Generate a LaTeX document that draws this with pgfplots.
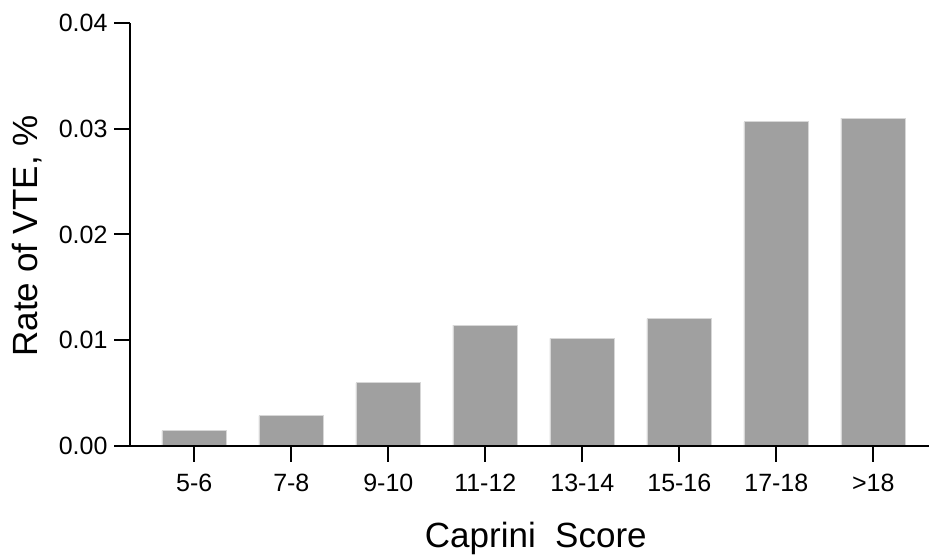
\documentclass[border=0pt]{standalone}
\usepackage{pgfplots}
\pgfplotsset{compat=1.18}
\usepackage{fontspec}
\setmainfont{Liberation Sans}
\definecolor{barfill}{RGB}{160,160,160}
\definecolor{baredge}{RGB}{215,215,215}
\begin{document}
\begin{tikzpicture}[x=1bp,y=1bp]
\useasboundingbox (0,0) rectangle (930,555);
\begin{axis}[
  at={(130bp,109bp)}, anchor=south west,
  scale only axis, width=799bp, height=423bp,
  xmin=-0.663, xmax=7.574, ymin=0, ymax=0.04,
  axis x line=bottom, axis y line=left,
  axis line style={-, line width=2bp, black},
  axis on top,
  xtick={0,1,2,3,4,5,6,7},
  xticklabels={5-6,7-8,9-10,11-12,13-14,15-16,17-18,>18},
  ytick={0,0.01,0.02,0.03,0.04},
  yticklabels={0.00,0.01,0.02,0.03,0.04},
  scaled y ticks=false,
  tick align=outside, major tick length=16bp,
  tick style={line width=2bp, black},
  ticklabel style={font=\fontsize{25bp}{30bp}\selectfont},
  xticklabel style={yshift=-9bp},
  yticklabel style={xshift=-3bp},
  xlabel={Caprini\ \ Score},
  ylabel={Rate of VTE, \%},
  xlabel style={at={(axis description cs:0.5079,-0.2395)}, anchor=base, inner sep=0pt, font=\fontsize{35bp}{42bp}\selectfont},
  ylabel style={at={(axis description cs:-0.1164,0.4965)}, rotate=0, anchor=base, inner sep=0pt, font=\fontsize{35bp}{42bp}\selectfont},
  ybar, bar width=64.7bp,
]
\addplot[fill=barfill, draw=baredge, line width=0.8bp] table {
x y
0 0.00145
1 0.00286
2 0.00598
3 0.01144
4 0.01018
5 0.01204
6 0.03065
7 0.0310
};
\end{axis}
\end{tikzpicture}
\end{document}
